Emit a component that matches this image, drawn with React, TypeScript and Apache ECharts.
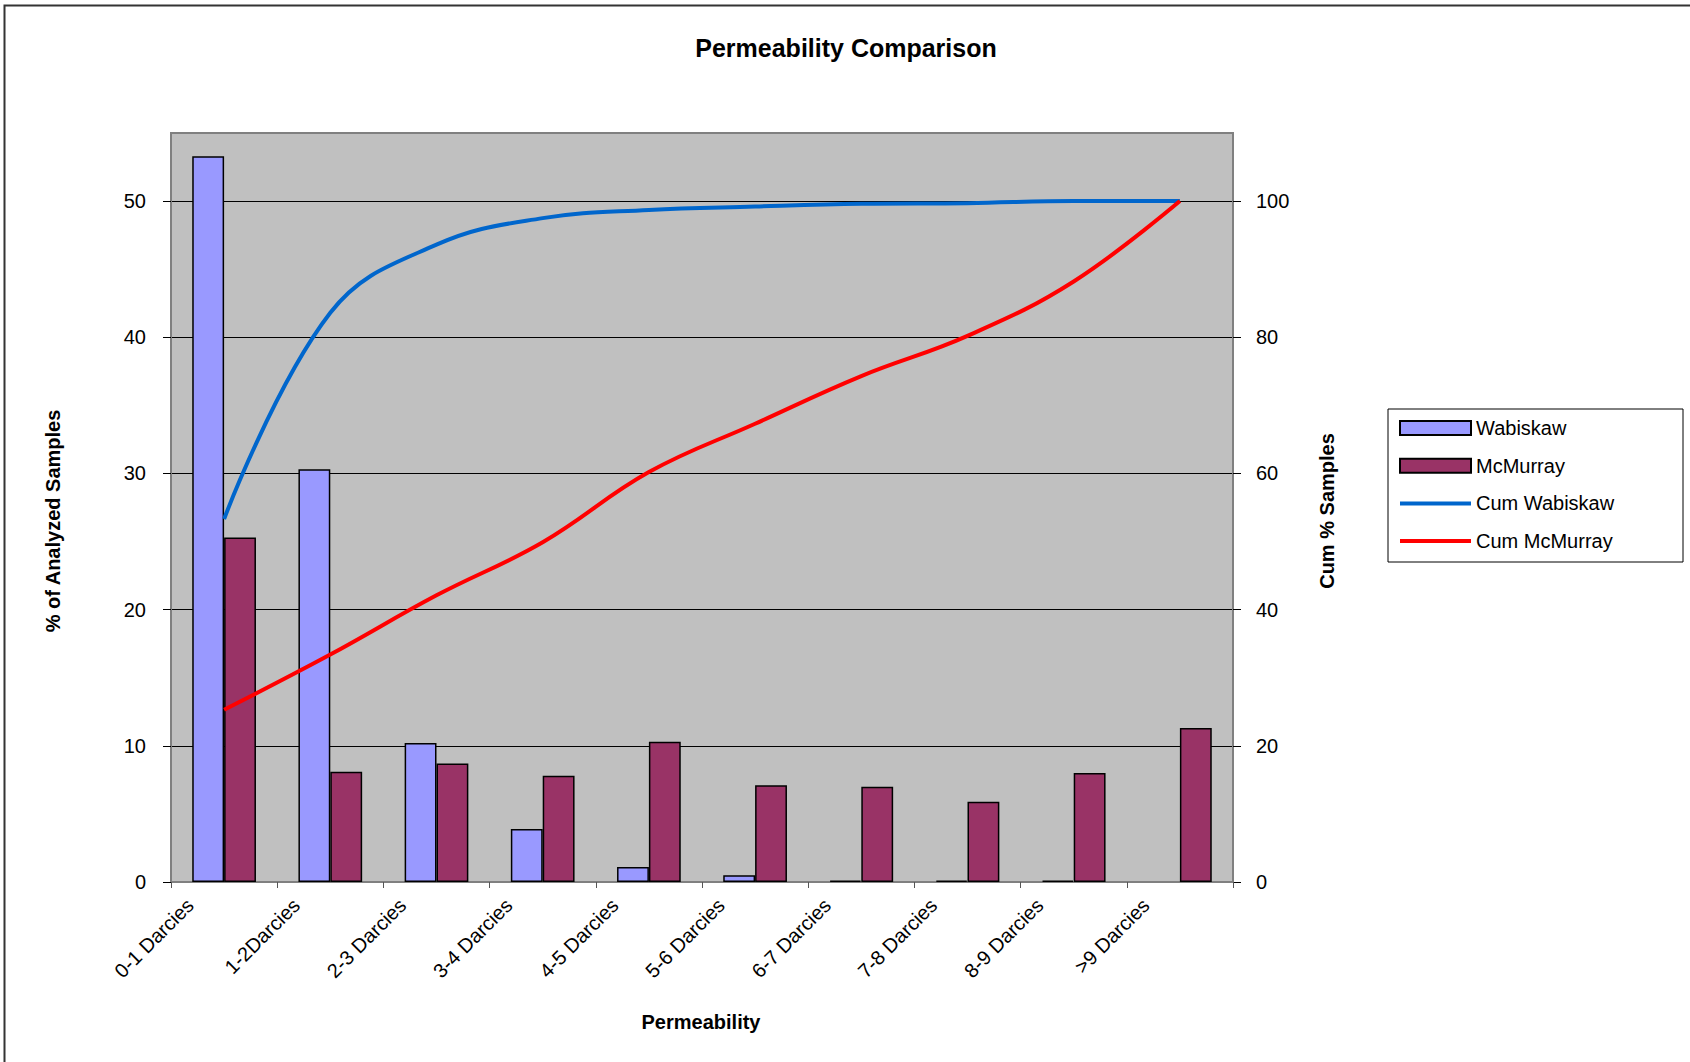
import React, { useEffect, useRef } from "react";
import * as echarts from "echarts";

const categories = [
  "0-1 Darcies",
  "1-2Darcies",
  "2-3 Darcies",
  "3-4 Darcies",
  "4-5 Darcies",
  "5-6 Darcies",
  "6-7 Darcies",
  "7-8 Darcies",
  "8-9 Darcies",
  ">9 Darcies",
];

const wabiskaw = [53.3, 30.3, 10.2, 3.9, 1.1, 0.5, 0.1, 0.1, 0.1, null];
const mcMurray = [25.3, 8.1, 8.7, 7.8, 10.3, 7.1, 7.0, 5.9, 8.0, 11.3];
const cumWabiskaw = [53.3, 83.6, 93.6, 97.5, 98.7, 99.2, 99.6, 99.7, 100, 100];
const cumMcMurray = [25.3, 33.4, 42.1, 49.9, 60.2, 67.3, 74.3, 80.2, 88.2, 100];

const leftTicks = { min: 0, max: 55, interval: 10 };
const rightTicks = { min: 0, max: 110, interval: 20 };

const FONT = "'Liberation Sans', Arial, sans-serif";

export default function App() {
  const ref = useRef<HTMLDivElement>(null);

  useEffect(() => {
    if (!ref.current) return;
    const chart = echarts.init(ref.current, undefined, { renderer: "svg" });
    const option: any = {
      animation: false,
      backgroundColor: "#ffffff",
      textStyle: { fontFamily: FONT },
      title: {
        text: "Permeability Comparison",
        left: 846,
        top: 35,
        textAlign: "center",
        padding: 0,
        textStyle: { fontSize: 25, fontWeight: "bold", color: "#000", fontFamily: FONT },
      },
      legend: {
        orient: "vertical",
        left: 1398,
        top: 418,
        padding: 0,
        itemWidth: 71,
        itemHeight: 14,
        itemGap: 17.7,
        z: 10,
        textStyle: { fontSize: 20, color: "#000", fontFamily: FONT, lineHeight: 20 },
        data: [
          { name: "Wabiskaw", icon: "rect" },
          { name: "McMurray", icon: "rect" },
          {
            name: "Cum Wabiskaw",
            itemStyle: { opacity: 0 },
            lineStyle: { width: 4, color: "#0066CC" },
          },
          {
            name: "Cum McMurray",
            itemStyle: { opacity: 0 },
            lineStyle: { width: 4, color: "#FF0000" },
          },
        ],
      },
      graphic: [
        {
          type: "rect",
          z: -10,
          silent: true,
          shape: { x: 4.5, y: 5.5, width: 1720, height: 1100 },
          style: { fill: "none", stroke: "#333", lineWidth: 2 },
        },
        {
          type: "rect",
          z: 1,
          silent: true,
          shape: { x: 1388, y: 409, width: 295, height: 153 },
          style: { fill: "#fff", stroke: "#000", lineWidth: 1 },
        },
        {
          type: "text",
          x: 53,
          y: 521,
          rotation: Math.PI / 2,
          style: {
            text: "% of Analyzed Samples",
            fontSize: 20,
            fontWeight: "bold",
            fontFamily: FONT,
            fill: "#000",
            textAlign: "center",
            textVerticalAlign: "middle",
          },
        },
        {
          type: "text",
          x: 1327,
          y: 511,
          rotation: Math.PI / 2,
          style: {
            text: "Cum % Samples",
            fontSize: 20,
            fontWeight: "bold",
            fontFamily: FONT,
            fill: "#000",
            textAlign: "center",
            textVerticalAlign: "middle",
          },
        },
        {
          type: "text",
          x: 701,
          y: 1022,
          style: {
            text: "Permeability",
            fontSize: 20,
            fontWeight: "bold",
            fontFamily: FONT,
            fill: "#000",
            textAlign: "center",
            textVerticalAlign: "middle",
          },
        },
      ],
      grid: {
        left: 171,
        top: 133,
        width: 1062,
        height: 749,
        show: true,
        backgroundColor: "#C0C0C0",
        borderColor: "#808080",
        borderWidth: 2,
      },
      xAxis: {
        type: "category",
        data: categories,
        boundaryGap: true,
        axisLine: { show: true, lineStyle: { color: "#808080", width: 2 } },
        axisTick: { show: true, length: 6, lineStyle: { color: "#555", width: 1 } },
        axisLabel: {
          interval: 0,
          rotate: 45,
          margin: -14,
          padding: [0, 48, 0, 0],
          fontSize: 20,
          color: "#000",
          fontFamily: FONT,
        },
        splitLine: { show: false },
      },
      yAxis: [
        {
          type: "value",
          min: leftTicks.min,
          max: leftTicks.max,
          interval: leftTicks.interval,
          axisLine: { show: true, lineStyle: { color: "#808080", width: 2 } },
          axisTick: { show: true, length: 8, lineStyle: { color: "#000", width: 1 } },
          axisLabel: { showMaxLabel: false, margin: 25, fontSize: 20, color: "#000", fontFamily: FONT },
          splitLine: {
            show: true,
            showMinLine: false,
            showMaxLine: false,
            lineStyle: { color: "#000", width: 1 },
          },
        },
        {
          type: "value",
          position: "right",
          min: rightTicks.min,
          max: rightTicks.max,
          interval: rightTicks.interval,
          axisLine: { show: true, lineStyle: { color: "#808080", width: 2 } },
          axisTick: { show: true, length: 8, lineStyle: { color: "#000", width: 1 } },
          axisLabel: { showMaxLabel: false, margin: 23, fontSize: 20, color: "#000", fontFamily: FONT },
          splitLine: { show: false },
        },
      ],
      series: [
        {
          name: "Wabiskaw",
          type: "bar",
          yAxisIndex: 0,
          data: wabiskaw,
          barGap: "0%",
          barCategoryGap: "40%",
          itemStyle: { color: "#9999FF", borderColor: "#000", borderWidth: 1.5 },
        },
        {
          name: "McMurray",
          type: "bar",
          yAxisIndex: 0,
          data: mcMurray,
          barGap: "0%",
          barCategoryGap: "40%",
          itemStyle: { color: "#993366", borderColor: "#000", borderWidth: 1.5 },
        },
        {
          name: "Cum Wabiskaw",
          type: "line",
          yAxisIndex: 1,
          data: cumWabiskaw,
          smooth: 0.4,
          symbol: "none",
          z: 5,
          lineStyle: { color: "#0066CC", width: 4 },
          itemStyle: { color: "#0066CC" },
        },
        {
          name: "Cum McMurray",
          type: "line",
          yAxisIndex: 1,
          data: cumMcMurray,
          smooth: 0.4,
          symbol: "none",
          z: 5,
          lineStyle: { color: "#FF0000", width: 4 },
          itemStyle: { color: "#FF0000" },
        },
      ],
    };
    chart.setOption(option);
    return () => chart.dispose();
  }, []);

  return (
    <div
      ref={ref}
      style={{ position: "fixed", left: 0, top: 0, width: 1690, height: 1062 }}
    />
  );
}
